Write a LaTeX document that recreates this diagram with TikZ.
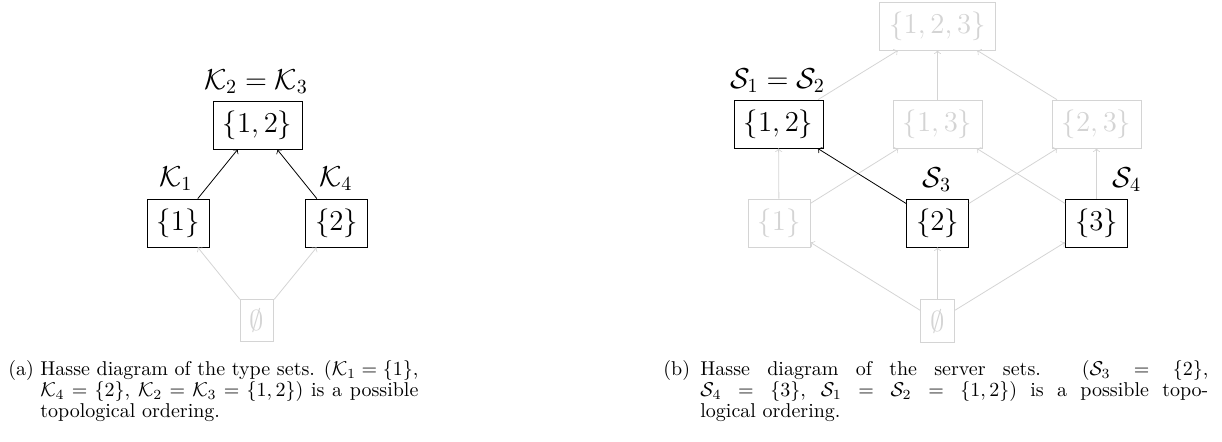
\documentclass[tikz,border=0pt]{standalone}

\newcommand{\capfont}{\fontsize{10}{10.5}\selectfont}

\tikzset{
  insieme/.style={draw, inner sep=4.8pt, font=\Large},
  spento/.style={draw=black!17, text=black!17},
  etichetta/.style={anchor=base, inner sep=0pt, font=\Large},
  didascalia/.style={anchor=base west, inner sep=0pt, align=justify, font=\capfont},
}

\begin{document}
\begin{tikzpicture}[>=to, x=0.5pt, y=-0.5pt]
    \useasboundingbox (0,0) rectangle (1222,441);

    % Diagramma (a)
    \node[insieme] (k12) at (257.5,125) {$\{1,2\}$};
    \node[insieme] (k1) at (178,223) {$\{1\}$};
    \node[insieme] (k2) at (336.5,223) {$\{2\}$};
    \node[insieme, spento] (k0) at (257,320.5) {$\emptyset$};

    \draw[->, black!17] (k0) -- (k1);
    \draw[->, black!17] (k0) -- (k2);
    \draw[->] (k1) -- (k12);
    \draw[->] (k2) -- (k12);

    \node[etichetta] (lk23) at (256,89) {$\mathcal{K}_2=\mathcal{K}_3$};
    \node[etichetta] (lk1) at (176,186) {$\mathcal{K}_1$};
    \node[etichetta] (lk4) at (336,186) {$\mathcal{K}_4$};

    % Diagramma (b)
    \node[insieme, spento] (s123) at (937.5,26) {$\{1,2,3\}$};
    \node[insieme] (s12) at (778.5,124) {$\{1,2\}$};
    \node[insieme, spento] (s13) at (937.5,124) {$\{1,3\}$};
    \node[insieme, spento] (s23) at (1096.5,124) {$\{2,3\}$};
    \node[insieme, spento] (s1) at (779,223) {$\{1\}$};
    \node[insieme] (s2) at (937.5,223) {$\{2\}$};
    \node[insieme] (s3) at (1096.5,223) {$\{3\}$};
    \node[insieme, spento] (s0) at (937.5,321) {$\emptyset$};

    \draw[->, black!17] (s0) -- (s1);
    \draw[->, black!17] (s0) -- (s2);
    \draw[->, black!17] (s0) -- (s3);
    \draw[->, black!17] (s1) -- (s12);
    \draw[->, black!17] (s1) -- (s13);
    \draw[->, black!17] (s2) -- (s23);
    \draw[->, black!17] (s3) -- (s13);
    \draw[->, black!17] (s3) -- (s23);
    \draw[->, black!17] (s12) -- (s123);
    \draw[->, black!17] (s13) -- (s123);
    \draw[->, black!17] (s23) -- (s123);
    \draw[->] (s2) -- (s12);

    \node[etichetta] (ls12) at (777.5,88) {$\mathcal{S}_1=\mathcal{S}_2$};
    \node[etichetta] (ls3) at (937,187) {$\mathcal{S}_3$};
    \node[etichetta] (ls4) at (1127,187) {$\mathcal{S}_4$};

    % Didascalie
    \node[didascalia] (ca) at (8,375) {\capfont (a)};
    \node[didascalia, text width=189pt] (ta) at (40,375)
      {Hasse diagram of the type sets. ($\mathcal{K}_1=\{1\}$,\linebreak
       $\mathcal{K}_4=\{2\}$, $\mathcal{K}_2=\mathcal{K}_3=\{1,2\}$) is a possible\linebreak
       topological ordering.};
    \node[didascalia] (cb) at (663,375) {\capfont (b)};
    \node[didascalia, text width=254pt] (tb) at (700,375)
      {Hasse diagram of the server sets. ($\mathcal{S}_3=\{2\}$,\linebreak
       $\mathcal{S}_4=\{3\}$, $\mathcal{S}_1=\mathcal{S}_2=\{1,2\}$) is a possible topo-\linebreak
       logical ordering.};
\end{tikzpicture}
\end{document}
